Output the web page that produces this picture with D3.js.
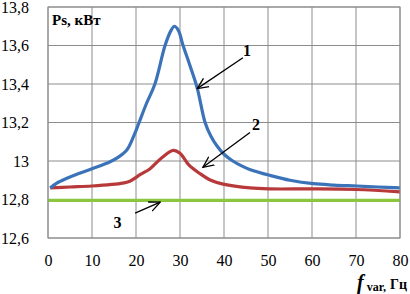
<!DOCTYPE html>
<html>
<head>
<meta charset="utf-8">
<script src="https://cdn.jsdelivr.net/npm/d3@7"></script>
<style>
  body { margin: 0; background: #fff; }
</style>
</head>
<body>
<div id="chart"></div>
<script>
// Data
const freq1 = [0.5, 2, 4.3, 7, 10, 14, 16, 18, 19.5, 20.7, 22.4, 24.3, 26.6, 28, 28.7, 29.6, 30.7, 32.2, 33.9, 35.7, 37, 38.5, 40, 42, 44, 46, 50.5, 55, 60.3, 65, 70.2, 75, 80];
const power1 = [12.86, 12.885, 12.91, 12.935, 12.96, 12.995, 13.02, 13.06, 13.13, 13.2, 13.3, 13.4, 13.6, 13.68, 13.70, 13.68, 13.6, 13.5, 13.38, 13.2, 13.13, 13.075, 13.035, 13.0, 12.975, 12.955, 12.925, 12.9, 12.882, 12.875, 12.87, 12.865, 12.86];
const freq2 = [0.5, 5, 10, 17, 18.6, 21, 23.2, 26, 28.5, 30, 32, 34.5, 37, 39.8, 45.9, 50.5, 60, 70, 80];
const power2 = [12.86, 12.865, 12.87, 12.885, 12.895, 12.93, 12.96, 13.02, 13.055, 13.04, 12.98, 12.935, 12.9, 12.88, 12.86, 12.855, 12.855, 12.852, 12.84];
const freq3 = [0, 80];
const power3 = [12.795, 12.795];
const xTicks = [0, 10, 20, 30, 40, 50, 60, 70, 80];
const yTicks = [12.6, 12.8, 13, 13.2, 13.4, 13.6, 13.8];

const W = 410, H = 294;
const margin = { top: 7, right: 10, bottom: 56, left: 48 };
const width = W - margin.left - margin.right;
const height = H - margin.top - margin.bottom;
const serif = "Liberation Serif";

const svg = d3.select("#chart")
  .append("svg")
    .attr("width", W)
    .attr("height", H)
    .attr("font-family", serif);

const g = svg.append("g")
  .attr("transform", `translate(${margin.left},${margin.top})`);

const x = d3.scaleLinear().domain([0, 80]).range([0, width]);
const y = d3.scaleLinear().domain([12.6, 13.8]).range([height, 0]);

// grid
g.append("g")
  .selectAll("line")
  .data(xTicks)
  .enter().append("line")
    .attr("x1", d => x(d)).attr("x2", d => x(d))
    .attr("y1", 0).attr("y2", height)
    .attr("stroke", "#8c8c8c").attr("stroke-width", 1);
g.append("g")
  .selectAll("line")
  .data(yTicks)
  .enter().append("line")
    .attr("x1", 0).attr("x2", width)
    .attr("y1", d => y(d)).attr("y2", d => y(d))
    .attr("stroke", "#8c8c8c").attr("stroke-width", 1);

// axes (labels only)
const fmt = d => String(+d.toFixed(1)).replace(".", ",");
const yAxis = g.append("g")
  .attr("transform", "translate(-16,0)")
  .call(d3.axisLeft(y).tickValues(yTicks).tickSize(0).tickFormat(fmt))
  .attr("font-family", serif)
  .attr("font-size", 16);
yAxis.select(".domain").remove();
yAxis.selectAll("text").attr("fill", "#000");

const xAxis = g.append("g")
  .attr("transform", `translate(0,${height + 14})`)
  .call(d3.axisBottom(x).tickValues(xTicks).tickSize(0).tickFormat(d3.format("d")))
  .attr("font-family", serif)
  .attr("font-size", 16);
xAxis.select(".domain").remove();
xAxis.selectAll("text").attr("fill", "#000");

// curves
const line = d3.line()
  .x(d => x(d[0]))
  .y(d => y(d[1]))
  .curve(d3.curveCatmullRom.alpha(0.5));

const series = [
  { f: freq3, p: power3, color: "#8cc63e" },
  { f: freq2, p: power2, color: "#b8393a" },
  { f: freq1, p: power1, color: "#3b73b9" }
];
series.forEach(s => {
  g.append("path")
    .datum(d3.zip(s.f, s.p))
    .attr("fill", "none")
    .attr("stroke", s.color)
    .attr("stroke-width", 3.2)
    .attr("stroke-linejoin", "round")
    .attr("d", line);
});

// callouts
svg.append("defs").append("marker")
  .attr("id", "arr")
  .attr("viewBox", "0 0 12 12")
  .attr("refX", 11).attr("refY", 6)
  .attr("markerWidth", 12).attr("markerHeight", 12)
  .attr("markerUnits", "userSpaceOnUse")
  .attr("orient", "auto")
  .append("path")
    .attr("d", "M0,1 L11,6 L0,11")
    .attr("fill", "none")
    .attr("stroke", "#000")
    .attr("stroke-width", 1.3);

const callouts = [
  { label: "1", lx: 45.2, ly: 13.547, from: [44.3, 13.536], to: [33.9, 13.376] },
  { label: "2", lx: 47.3, ly: 13.159, from: [45.9, 13.148], to: [35.2, 12.967] },
  { label: "3", lx: 15.8, ly: 12.652, from: [19.8, 12.729], to: [25.5, 12.786] }
];
callouts.forEach(c => {
  g.append("line")
    .attr("x1", x(c.from[0])).attr("y1", y(c.from[1]))
    .attr("x2", x(c.to[0])).attr("y2", y(c.to[1]))
    .attr("stroke", "#000").attr("stroke-width", 1.3)
    .attr("marker-end", "url(#arr)");
  g.append("text")
    .attr("x", x(c.lx)).attr("y", y(c.ly))
    .attr("text-anchor", "middle")
    .attr("font-size", 16).attr("font-weight", "bold")
    .text(c.label);
});

// frame
g.append("rect")
  .attr("width", width).attr("height", height)
  .attr("fill", "none").attr("stroke", "#8c8c8c").attr("stroke-width", 1);

// titles
svg.append("text")
  .attr("x", 52).attr("y", 25)
  .attr("font-size", 15).attr("font-weight", "bold")
  .text("Ps, кВт");

const xt = svg.append("text")
  .attr("x", 407).attr("y", 289)
  .attr("text-anchor", "end")
  .attr("font-weight", "bold");
xt.append("tspan").attr("font-size", 20).attr("font-style", "italic").text("f");
xt.append("tspan").attr("font-size", 12).attr("dx", 3).attr("dy", 2).text("var,");
xt.append("tspan").attr("font-size", 14).attr("dx", 4).attr("dy", -2).text("Гц");
</script>
</body>
</html>
